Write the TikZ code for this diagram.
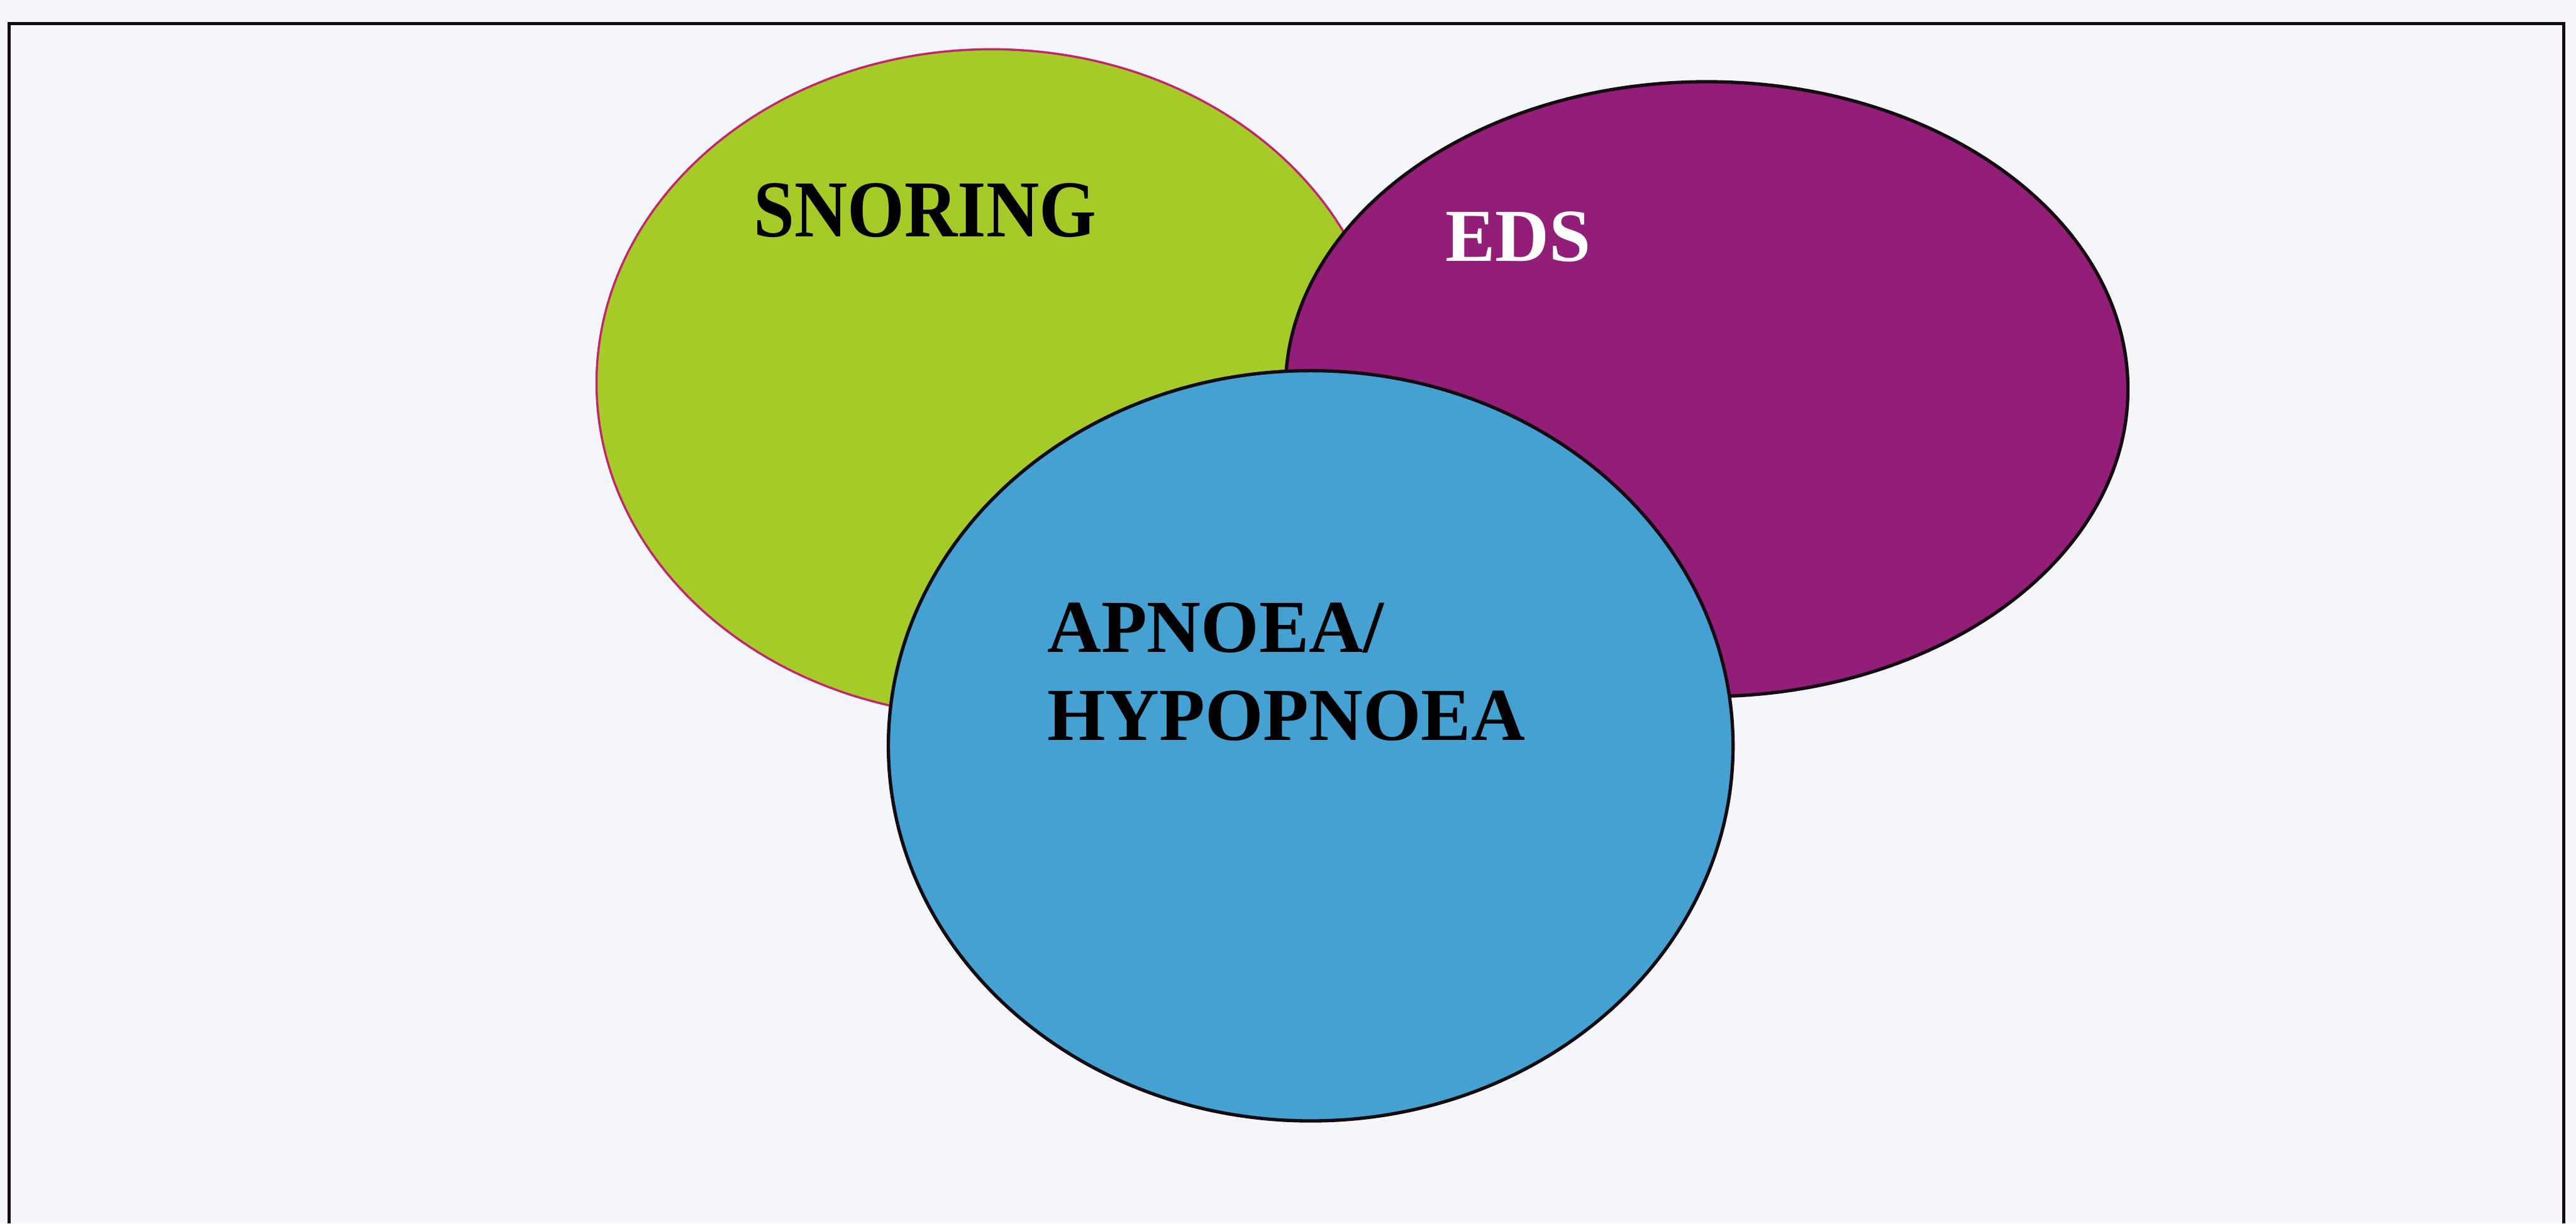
\documentclass[tikz,border=0pt]{standalone}
\usepackage{fontspec}
\setmainfont{Liberation Serif}
\definecolor{pagebg}{RGB}{244,246,251}
\definecolor{snorefill}{RGB}{166,203,40}
\definecolor{snoreline}{RGB}{196,36,110}
\definecolor{edsfill}{RGB}{146,30,120}
\definecolor{apnfill}{RGB}{70,161,211}
\definecolor{inkline}{RGB}{20,12,16}
\tikzset{
  blob/.style={line width=1.7pt},
  txtlabel/.style={inner sep=0pt, anchor=base west}
}
\begin{document}
\begin{tikzpicture}
\useasboundingbox (0,0) rectangle (45.99,21.85);
\fill[pagebg] (0,0) rectangle (45.99,21.85);
% frame (open at the bottom edge)
\coordinate (fbl) at (0.16,0);
\coordinate (ftl) at (0.16,21.43);
\coordinate (ftr) at (45.77,21.43);
\coordinate (fbr) at (45.77,0);
\draw[inkline, line width=1.5pt] (fbl) -- (ftl) -- (ftr) -- (fbr);
% circles
\draw[line width=1.1pt, fill=snorefill, draw=snoreline] (17.70,15.01) ellipse [x radius=7.05, y radius=5.96];
\draw[blob, fill=edsfill, draw=inkline] (30.47,14.90) ellipse [x radius=7.52, y radius=5.49];
\draw[blob, fill=apnfill, draw=inkline] (23.40,8.53) ellipse [x radius=7.54, y radius=6.70];
% labels
\node[txtlabel, font=\bfseries\fontsize{41}{41}\selectfont, xscale=0.91, text=black] (snoring) at (13.45,17.62) {SNORING};
\node[txtlabel, font=\bfseries\fontsize{38}{38}\selectfont, text=white] (eds) at (25.80,17.18) {EDS};
\node[txtlabel, font=\bfseries\fontsize{38}{44.7}\selectfont, align=left, text=black] (apnoea) at (18.69,8.63) {APNOEA/\\HYPOPNOEA};
\end{tikzpicture}
\end{document}
